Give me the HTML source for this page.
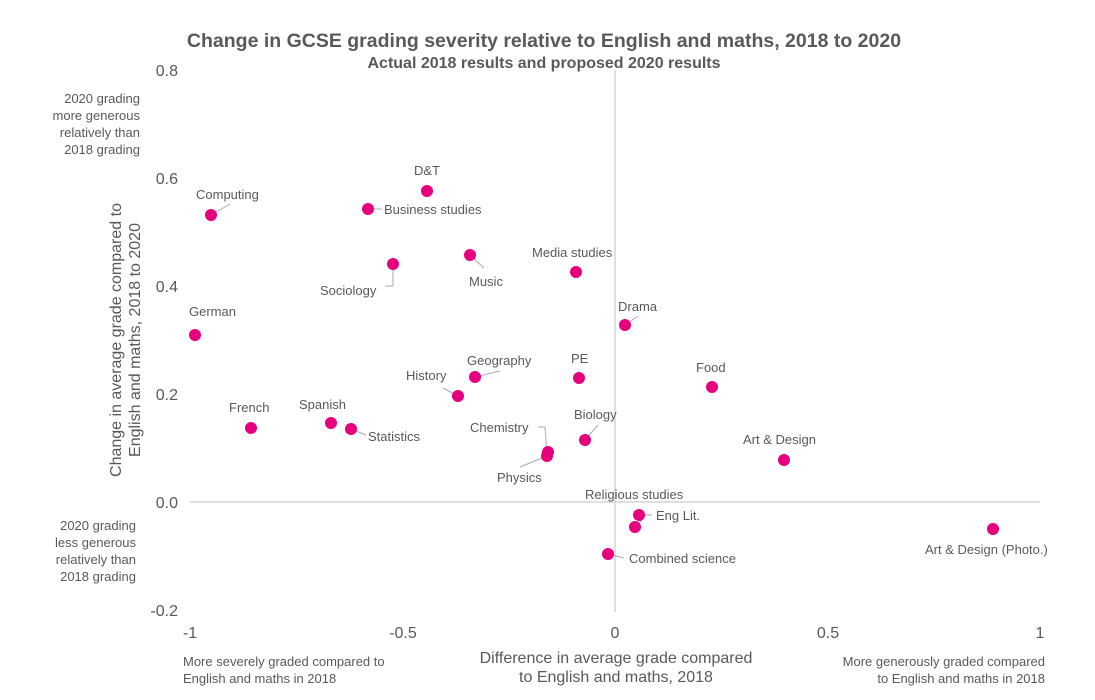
<!DOCTYPE html>
<html><head><meta charset="utf-8"><style>
html,body{margin:0;padding:0;background:#fff;}
svg{display:block;font-family:"Liberation Sans",sans-serif;}
.t{fill:#595959;font-size:13px;}
.k{fill:#595959;font-size:16px;}
.l{stroke:#aaa;stroke-width:1;fill:none;}
circle{fill:#e6007e;}
</style></head><body>
<svg width="1095" height="700" viewBox="0 0 1095 700">
<text x="544" y="47" text-anchor="middle" style="font-size:19.5px;font-weight:bold;fill:#595959">Change in GCSE grading severity relative to English and maths, 2018 to 2020</text>
<text x="544" y="68" text-anchor="middle" style="font-size:16px;font-weight:bold;fill:#595959">Actual 2018 results and proposed 2020 results</text>
<line x1="615" y1="70" x2="615" y2="612" stroke="#ccc" stroke-width="1.2"/>
<line x1="190" y1="502" x2="1040" y2="502" stroke="#ccc" stroke-width="1.2"/>
<g class="k" text-anchor="end">
<text x="178" y="76">0.8</text><text x="178" y="184">0.6</text><text x="178" y="292">0.4</text><text x="178" y="400">0.2</text><text x="178" y="508">0.0</text><text x="178" y="616">-0.2</text>
</g>
<g class="k" text-anchor="middle">
<text x="190" y="638">-1</text><text x="403" y="638">-0.5</text><text x="615" y="638">0</text><text x="828" y="638">0.5</text><text x="1040" y="638">1</text>
</g>
<text class="k" transform="translate(121,340) rotate(-90)" text-anchor="middle"><tspan x="0" y="0">Change in average grade compared to</tspan><tspan x="0" y="19">English and maths, 2018 to 2020</tspan></text>
<text class="k" text-anchor="middle"><tspan x="616" y="663">Difference in average grade compared</tspan><tspan x="616" y="682">to English and maths, 2018</tspan></text>
<g class="t" text-anchor="end">
<text x="140" y="103">2020 grading</text><text x="140" y="120">more generous</text><text x="140" y="137">relatively than</text><text x="140" y="154">2018 grading</text>
<text x="136" y="530">2020 grading</text><text x="136" y="547">less generous</text><text x="136" y="564">relatively than</text><text x="136" y="581">2018 grading</text>
<text x="1045" y="666">More generously graded compared</text><text x="1045" y="683">to English and maths in 2018</text>
</g>
<g class="t"><text x="183" y="666">More severely graded compared to</text><text x="183" y="683">English and maths in 2018</text></g>
<g class="l">
<line x1="211" y1="215" x2="230" y2="204"/><line x1="368" y1="209" x2="382" y2="209"/>
<line x1="393" y1="264" x2="393" y2="286" /><line x1="393" y1="286" x2="385" y2="286"/>
<line x1="470" y1="255" x2="484" y2="268"/><line x1="625" y1="325" x2="638" y2="316"/>
<line x1="475" y1="377" x2="500" y2="371"/><line x1="458" y1="396" x2="443" y2="388"/>
<line x1="351" y1="429" x2="366" y2="435"/><line x1="585" y1="440" x2="598" y2="425"/>
<polyline points="538,427 545,427 547,455"/><line x1="547" y1="456" x2="520" y2="467"/>
<line x1="639" y1="515" x2="652" y2="515"/><line x1="635" y1="527" x2="642" y2="520"/>
<line x1="608" y1="554" x2="624" y2="558"/>
</g>
<g>
<circle cx="211" cy="215" r="6"/><circle cx="427" cy="191" r="6"/><circle cx="368" cy="209" r="6"/>
<circle cx="393" cy="264" r="6"/><circle cx="470" cy="255" r="6"/><circle cx="576" cy="272" r="6"/>
<circle cx="625" cy="325" r="6"/><circle cx="195" cy="335" r="6"/><circle cx="475" cy="377" r="6"/>
<circle cx="458" cy="396" r="6"/><circle cx="579" cy="378" r="6"/><circle cx="712" cy="387" r="6"/>
<circle cx="251" cy="428" r="6"/><circle cx="331" cy="423" r="6"/><circle cx="351" cy="429" r="6"/>
<circle cx="585" cy="440" r="6"/><circle cx="548" cy="452" r="6"/><circle cx="547" cy="456" r="6"/>
<circle cx="784" cy="460" r="6"/><circle cx="639" cy="515" r="6"/><circle cx="635" cy="527" r="6"/>
<circle cx="608" cy="554" r="6"/><circle cx="993" cy="529" r="6"/>
</g>
<g class="t">
<text x="196" y="199">Computing</text><text x="414" y="175">D&amp;T</text><text x="384" y="214">Business studies</text>
<text x="320" y="295">Sociology</text><text x="469" y="286">Music</text><text x="532" y="257">Media studies</text>
<text x="618" y="311">Drama</text><text x="189" y="316">German</text><text x="467" y="365">Geography</text>
<text x="406" y="380">History</text><text x="571" y="363">PE</text><text x="696" y="372">Food</text>
<text x="229" y="412">French</text><text x="299" y="409">Spanish</text><text x="368" y="441">Statistics</text>
<text x="574" y="419">Biology</text><text x="470" y="432">Chemistry</text><text x="497" y="482">Physics</text>
<text x="743" y="444">Art &amp; Design</text><text x="656" y="520">Eng Lit.</text><text x="585" y="499">Religious studies</text>
<text x="629" y="563">Combined science</text><text x="925" y="554">Art &amp; Design (Photo.)</text>
</g>
</svg>
</body></html>
